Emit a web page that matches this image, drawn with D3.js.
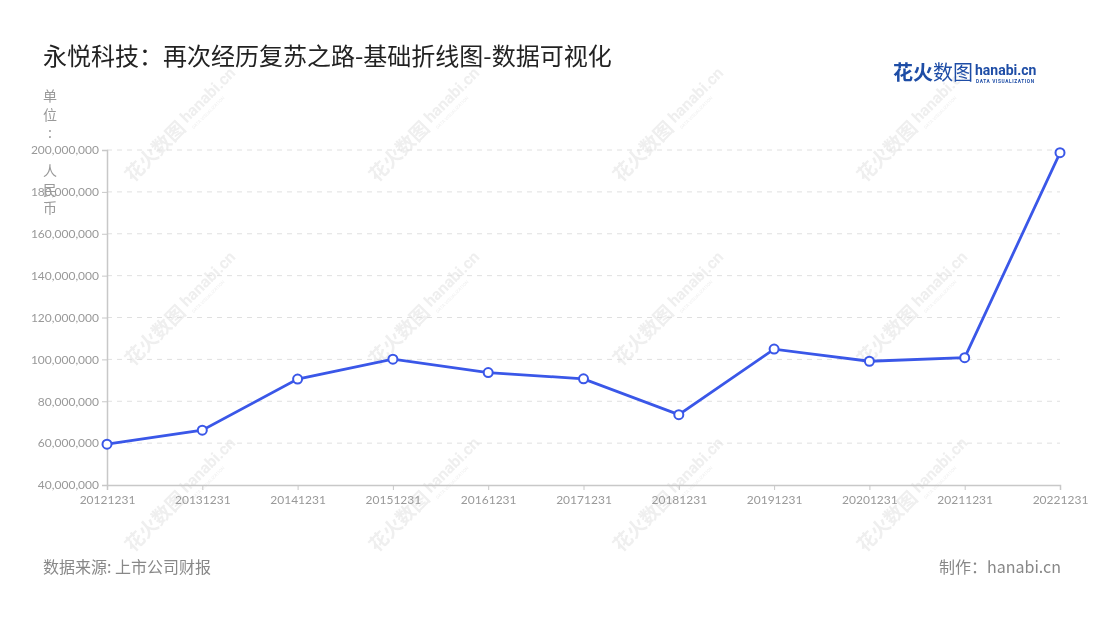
<!DOCTYPE html>
<html><head><meta charset="utf-8">
<script src="https://cdn.jsdelivr.net/npm/d3@7/dist/d3.min.js"></script>
<style>
body{margin:0;background:#fff;}
svg{display:block;font-family:"Noto Sans CJK SC","Noto Sans",sans-serif;}
</style></head>
<body><svg id="c" width="1100" height="620"></svg>
<script>
const categories = ["20121231","20131231","20141231","20151231","20161231","20171231","20181231","20191231","20201231","20211231","20221231"];
const values = [59500000,66200000,90600000,100100000,93700000,90700000,73600000,104900000,99100000,100800000,198700000];
const yTicks = [40000000,60000000,80000000,100000000,120000000,140000000,160000000,180000000,200000000];
const title = "永悦科技：再次经历复苏之路-基础折线图-数据可视化";
const yLabel = "单位: 人民币";
const source = "数据来源: 上市公司财报";
const credit = "制作：hanabi.cn";

const svg = d3.select("#c");
const W = 1100, H = 620;
const m = {left:107, right:40, top:150, bottom:135};

// watermarks
const wm = svg.append("g").attr("opacity",0.4);
[133,377,621,865].forEach(wx=>{
  [183,367,553].forEach(wy=>{
    const g = wm.append("g").attr("transform",`translate(${wx},${wy}) rotate(-45)`);
    g.append("text").attr("x",0).attr("y",0).attr("font-size",19).attr("font-weight",700)
      .attr("fill","#d6d6d6").text("花火数图");
    g.append("text").attr("x",80).attr("y",-4).attr("font-size",16).attr("font-weight",700)
      .attr("font-family","Roboto, sans-serif").attr("fill","#d6d6d6").text("hanabi.cn");
    g.append("text").attr("x",81).attr("y",5).attr("font-size",4.5)
      .attr("font-family","Roboto, sans-serif").attr("fill","#d6d6d6").text("DATA VISUALIZATION");
  });
});

const x = d3.scalePoint().domain(categories).range([m.left, W - m.right]);
const y = d3.scaleLinear().domain([40000000,200000000]).range([H - m.bottom, m.top]);

// grid
svg.append("g").selectAll("line").data(yTicks.slice(1)).join("line")
  .attr("x1",m.left).attr("x2",W-m.right)
  .attr("y1",d=>y(d)).attr("y2",d=>y(d))
  .attr("stroke","#e0e0e0").attr("stroke-dasharray","5,5");

// y axis
const yAxis = svg.append("g").attr("transform",`translate(${m.left},0)`)
  .call(d3.axisLeft(y).tickValues(yTicks).tickFormat(d3.format(",")).tickSize(5).tickPadding(3));
yAxis.select(".domain").attr("stroke","#c8c8c8").attr("stroke-width",1.5);
yAxis.selectAll(".tick line").attr("stroke","#c8c8c8");
yAxis.selectAll(".tick text").attr("fill","#999").attr("font-size",12).attr("font-family","Lato, 'Noto Sans', sans-serif");

// x axis
const xAxis = svg.append("g").attr("transform",`translate(0,${H-m.bottom})`)
  .call(d3.axisBottom(x).tickSize(5).tickPadding(5));
xAxis.select(".domain").attr("stroke","#c8c8c8").attr("stroke-width",1.5);
xAxis.selectAll(".tick line").attr("stroke","#c8c8c8");
xAxis.selectAll(".tick text").attr("fill","#999").attr("font-size",12).attr("font-family","Lato, 'Noto Sans', sans-serif");

// line
const color = "#3a57e8";
svg.append("path").datum(values)
  .attr("fill","none").attr("stroke",color).attr("stroke-width",2.8)
  .attr("d", d3.line().x((d,i)=>x(categories[i])).y(d=>y(d)));
svg.append("g").selectAll("circle").data(values).join("circle")
  .attr("cx",(d,i)=>x(categories[i])).attr("cy",d=>y(d)).attr("r",4.5)
  .attr("fill","#fff").attr("stroke",color).attr("stroke-width",2);

// y label vertical
const yl = svg.append("text").attr("fill","#999").attr("font-size",14).attr("text-anchor","middle");
Array.from(yLabel).forEach((ch,i)=>{
  yl.append("tspan").attr("x",50).attr("y",101 + i*18.7).text(ch === " " ? "\u00a0" : ch);
});

// title
svg.append("text").attr("x",43).attr("y",65).attr("font-size",24).attr("fill","#222").text(title);

// logo
const logo = svg.append("g");
logo.append("text").attr("x",893).attr("y",80).attr("font-size",20).attr("font-weight",700).attr("fill","#1e4da6").text("花火");
logo.append("text").attr("x",933).attr("y",80).attr("font-size",20).attr("fill","#1e4da6").text("数图");
logo.append("text").attr("x",975).attr("y",75).attr("font-size",14).attr("font-weight",700).attr("font-family","Roboto, sans-serif").attr("fill","#1e4da6").text("hanabi.cn");
logo.append("text").attr("x",976).attr("y",82.5).attr("font-size",4.8).attr("font-weight",700).attr("font-family","Roboto, sans-serif").attr("fill","#1e4da6").attr("letter-spacing",0.6).text("DATA VISUALIZATION");

// footer
svg.append("text").attr("x",43).attr("y",573).attr("font-size",16).attr("fill","#888").text(source);
svg.append("text").attr("x",1061).attr("y",573).attr("font-size",16).attr("fill","#888").attr("text-anchor","end").text(credit);
</script></body></html>
